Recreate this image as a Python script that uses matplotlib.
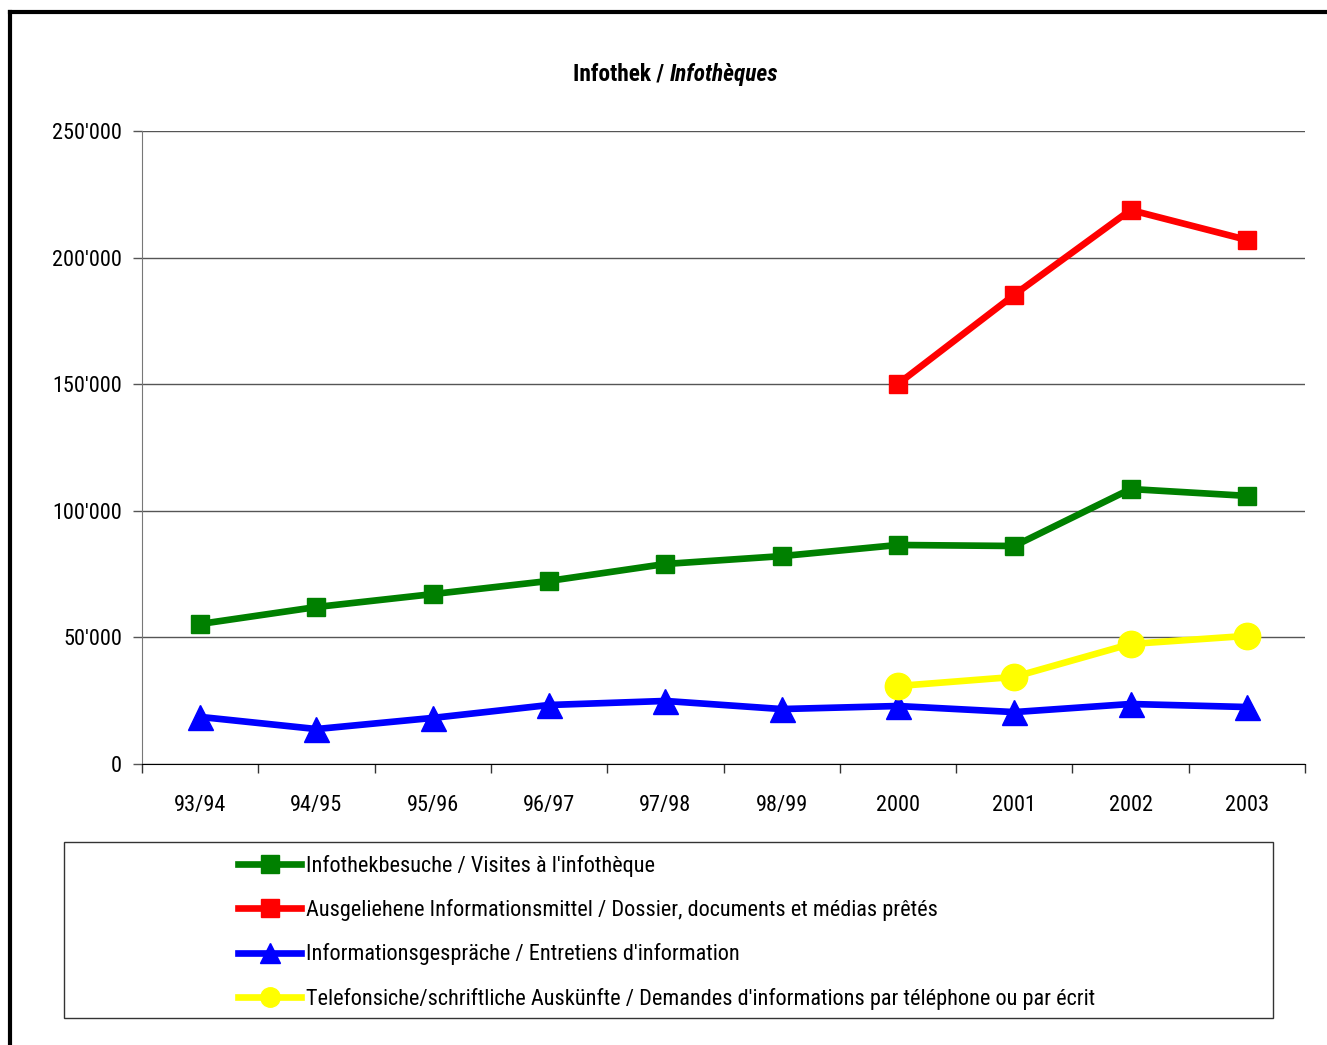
import matplotlib.pyplot as plt
import matplotlib.ticker as mticker
from matplotlib.lines import Line2D
from matplotlib.patches import Rectangle
from matplotlib import font_manager

# -------------------------------------------------------
#                    DATA
# -------------------------------------------------------

years = ['93/94', '94/95', '95/96', '96/97', '97/98', '98/99', '2000', '2001', '2002', '2003']

visits = [55300, 62000, 67100, 72300, 79000, 82100, 86500, 86100, 108600, 105900]
loans = [None, None, None, None, None, None, 150100, 185300, 218800, 207000]
talks = [18600, 13800, 18200, 23300, 24900, 21700, 22900, 20500, 23700, 22500]
requests = [None, None, None, None, None, None, 30800, 34400, 47400, 50600]

labels = ["Infothekbesuche / Visites à l'infothèque",
          "Ausgeliehene Informationsmittel / Dossier, documents et médias prêtés",
          "Informationsgespräche / Entretiens d'information",
          "Telefonsiche/schriftliche Auskünfte / Demandes d'informations par téléphone ou par écrit"]

# ............................................................

# narrow font if one is installed, otherwise Liberation Sans a bit smaller
names = {f.name for f in font_manager.fontManager.ttflist}
narrow = [n for n in ['Liberation Sans Narrow', 'Arial Narrow', 'Roboto Condensed',
                      'Open Sans Condensed'] if n in names]
if narrow:
    plt.rcParams['font.family'] = [narrow[0], 'DejaVu Sans']
    fs = 16
else:
    plt.rcParams['font.family'] = ['Liberation Sans', 'DejaVu Sans']
    fs = 14.7

W, H = 1327, 1045
fig = plt.figure(figsize=(W / 100, H / 100), dpi=100)
ax = fig.add_axes([142 / W, 1 - 764 / H, 1163 / W, 633 / H])

x = list(range(len(years)))


def series(vals):
    xs = [i for i, v in zip(x, vals) if v is not None]
    ys = [v for v in vals if v is not None]
    return xs, ys


lw = 4.8
ax.plot(*series(visits), color='#008000', lw=lw, marker='s', ms=13, label=labels[0], zorder=3)
ax.plot(*series(loans), color='#ff0000', lw=lw, marker='s', ms=13, label=labels[1], zorder=3)
ax.plot(*series(talks), color='#0000ff', lw=lw, marker='^', ms=18, label=labels[2], zorder=3)
ax.plot(*series(requests), color='#ffff00', lw=lw, marker='o', ms=19, label=labels[3], zorder=3)

ax.set_xlim(-0.5, len(years) - 0.5)
ax.set_ylim(0, 250000)
ax.yaxis.set_major_locator(mticker.MultipleLocator(50000))
ax.yaxis.set_major_formatter(mticker.FuncFormatter(lambda v, p: f"{int(v):,}".replace(',', "'")))
ax.grid(axis='y', color='#555555', lw=1)
ax.set_axisbelow(True)

ax.set_xticks(x)
ax.set_xticklabels(years)
ax.set_xticks([i - 0.5 for i in range(len(years) + 1)], minor=True)
ax.tick_params(axis='x', which='major', length=0, pad=22, labelsize=fs)
ax.tick_params(axis='x', which='minor', length=6.5, width=1, direction='out', color='#333333')
ax.tick_params(axis='y', length=6.5, width=1, direction='out', pad=8, labelsize=fs, color='#555555')

for s in ['top', 'right']:
    ax.spines[s].set_visible(False)
ax.spines['left'].set_color('#777777')
ax.spines['bottom'].set_color('black')

# title: bold + bold italic
tfs = fs * 1.05
fig.text(669 / W, 1 - 74 / H, 'Infothek / ', ha='right', va='center', fontsize=tfs, fontweight='bold')
fig.text(670 / W, 1 - 74 / H, 'Infothèques', ha='left', va='center', fontsize=tfs,
         fontweight='bold', style='italic')

# outer frame (top and left)
fig.add_artist(Line2D([10 / W, 1.02], [1 - 12 / H, 1 - 12 / H], color='black', lw=3))
fig.add_artist(Line2D([10 / W, 10 / W], [-0.02, 1 - 12 / H], color='black', lw=3))

# legend box
fig.add_artist(Rectangle((64 / W, 1 - 1018 / H), 1209 / W, 176 / H,
                         fill=False, edgecolor='#333333', lw=1, transform=fig.transFigure))
leg = fig.legend(loc='upper left', bbox_to_anchor=(218 / W, 1 - 835 / H), frameon=False,
                 fontsize=fs, handlelength=2.85, handletextpad=0.2, labelspacing=1.0,
                 markerscale=1.0)
# legend markers are smaller than in the plot
for h, ms in zip(leg.legend_handles, [13, 13, 14, 14]):
    h.set_markersize(ms)

fig.savefig('out.png', dpi=100)
